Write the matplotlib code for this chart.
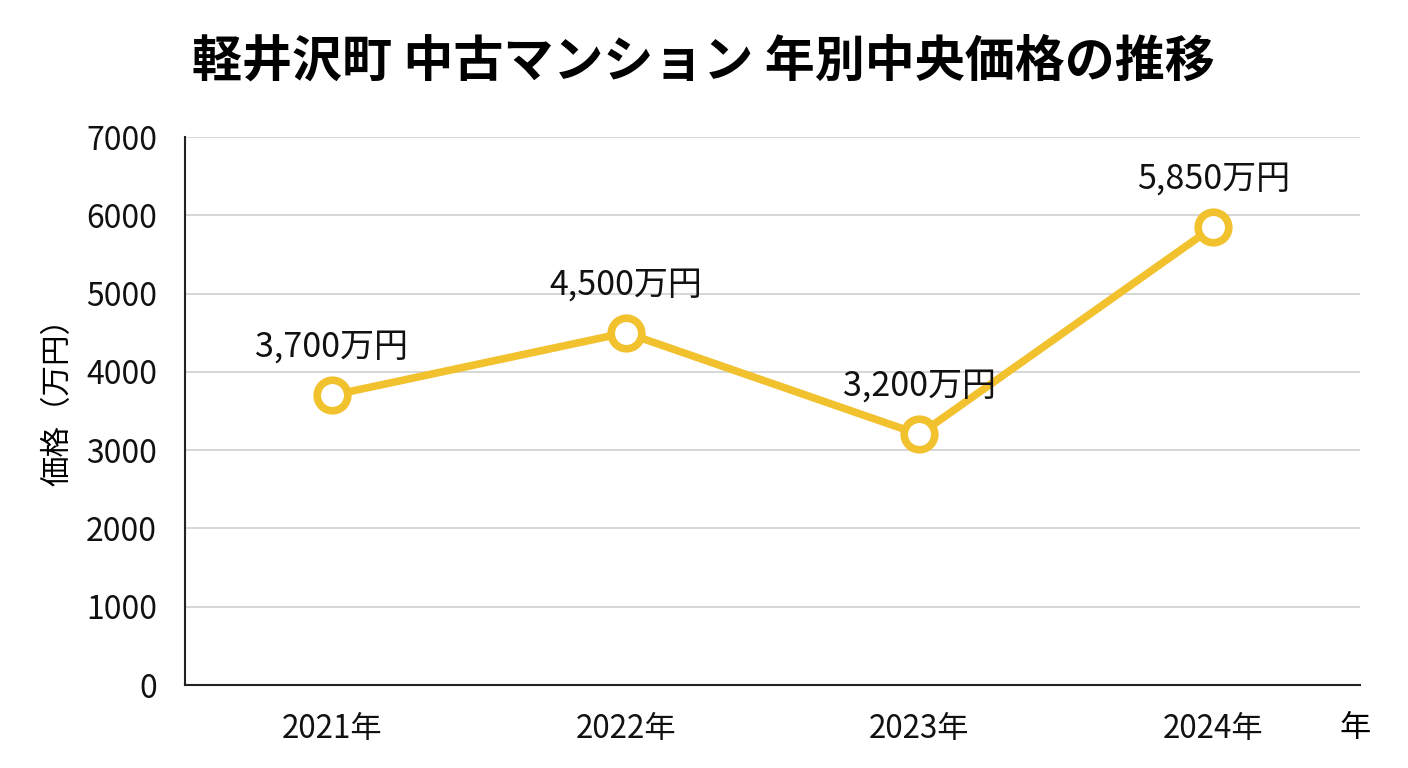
import matplotlib
matplotlib.use("Agg")
import matplotlib.pyplot as plt

plt.rcParams['font.family'] = ['Noto Sans CJK JP', 'DejaVu Sans']

years = ["2021年", "2022年", "2023年", "2024年"]
prices = [3700, 4500, 3200, 5850]
labels = ["3,700万円", "4,500万円", "3,200万円", "5,850万円"]
yticks = [0, 1000, 2000, 3000, 4000, 5000, 6000, 7000]

title = "軽井沢町 中古マンション 年別中央価格の推移"
color = "#F2C12E"

fig = plt.figure(figsize=(14.08, 7.68), dpi=100)
ax = fig.add_axes([185/1408, 1-685/768, (1360-185)/1408, (685-137)/768])

x = [i + 0.5 for i in range(len(years))]
ax.plot(x, prices, color=color, lw=5.5, marker='o', markersize=22,
        markerfacecolor='white', markeredgecolor=color, markeredgewidth=5.5,
        solid_capstyle='round', zorder=3)
for xi, yi, lab in zip(x, prices, labels):
    ax.annotate(lab, (xi, yi), xytext=(0, 22), textcoords='offset points',
                ha='center', va='bottom', fontsize=24.5, color='#111111')

ax.set_xlim(0, len(years))
ax.set_ylim(0, 7000)
ax.set_yticks(yticks)
ax.set_yticklabels([str(v) for v in yticks])
ax.set_xticks(x)
ax.set_xticklabels(years)
ax.tick_params(axis='both', length=0, colors='#111111')
ax.tick_params(axis='x', pad=20, labelsize=22.5)
ax.tick_params(axis='y', pad=20, labelsize=23)
ax.grid(axis='y', color='#d0d0d0', lw=1.2)
ax.set_axisbelow(True)
for s in ['top', 'right']:
    ax.spines[s].set_visible(False)
for s in ['left', 'bottom']:
    ax.spines[s].set_color('#222222')
    ax.spines[s].set_linewidth(1.5)

ax.set_ylabel("価格（万円）", fontsize=22)
ax.yaxis.set_label_coords(-0.095, 0.53)
fig.text(1355/1408, 1-728/768, "年", ha='center', va='center', fontsize=22.5)
fig.text(703/1408, 1-62/768, title, ha='center', va='center', fontsize=36, fontweight='bold')

fig.savefig("out.png", dpi=100)
